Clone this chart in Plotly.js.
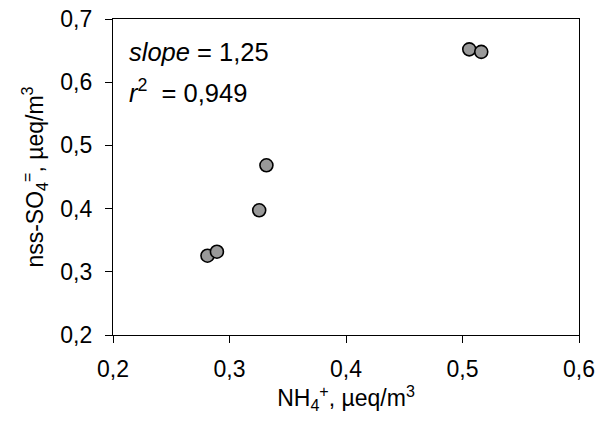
<!DOCTYPE html>
<html>
<head>
<meta charset="utf-8">
<script src="https://cdn.plot.ly/plotly-3.0.1.min.js"></script>
<style>html,body{margin:0;padding:0;background:#fff;}#chart{width:597px;height:421px;}</style>
</head>
<body>
<div id="chart"></div>
<script>
const nh4 = [0.2811, 0.2892, 0.3255, 0.3317, 0.5058, 0.5161];
const nssSO4 = [0.3255, 0.3318, 0.3973, 0.4685, 0.652, 0.648];
const slopeText = "<i>slope</i> = 1,25";
const r2Text = "<i>r</i><sup>2</sup>  = 0,949";

const font = {family: "Liberation Sans, Arial, sans-serif", size: 23, color: "#000"};
const annFont = {family: "Liberation Sans, Arial, sans-serif", size: 25.5, color: "#000"};

const trace = {
  x: nh4, y: nssSO4, type: "scatter", mode: "markers",
  marker: {size: 13, color: "#999999", line: {color: "#000", width: 1.6}},
  hoverinfo: "skip"
};

const axisCommon = {
  showgrid: false, zeroline: false, showline: true, linecolor: "#000", linewidth: 1.2,
  mirror: true, ticks: "outside", ticklen: 7, tickwidth: 1, tickcolor: "#000",
  tickformat: ".1f", dtick: 0.1, tickfont: font, fixedrange: true
};

const layout = {
  width: 597, height: 421,
  margin: {l: 113, r: 18, t: 19, b: 86},
  paper_bgcolor: "#fff", plot_bgcolor: "#fff",
  separators: ",.",
  font: font,
  showlegend: false,
  xaxis: Object.assign({}, axisCommon, {
    range: [0.2, 0.6], tick0: 0.2, ticklabelstandoff: 6,
    title: {text: "NH<sub>4</sub><sup>+</sup>, µeq/m<sup>3</sup>", font: font, standoff: 4}
  }),
  yaxis: Object.assign({}, axisCommon, {
    range: [0.2, 0.7], tick0: 0.2, ticklabelstandoff: 8,
    title: {text: "nss-SO<sub>4</sub><sup>=</sup>, µeq/m<sup>3</sup>", font: font, standoff: 10}
  }),
  annotations: [
    {xref: "paper", yref: "paper", x: 0.03, y: 0.895, xanchor: "left", yanchor: "middle",
     text: slopeText, showarrow: false, font: annFont},
    {xref: "paper", yref: "paper", x: 0.03, y: 0.772, xanchor: "left", yanchor: "middle",
     text: r2Text, showarrow: false, font: annFont}
  ]
};

Plotly.newPlot("chart", [trace], layout, {displayModeBar: false, staticPlot: true});
</script>
</body>
</html>
